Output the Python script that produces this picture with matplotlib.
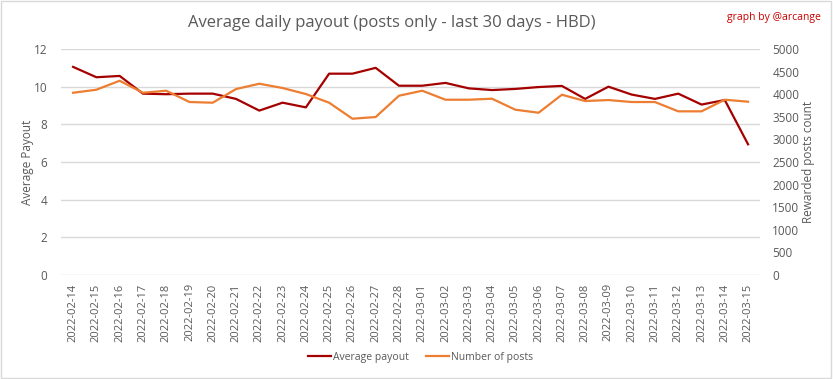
import pandas as pd
import matplotlib.pyplot as plt
from matplotlib.patches import Rectangle

dates = pd.date_range("2022-02-14", "2022-03-15").strftime("%Y-%m-%d").tolist()

avg_payout = [11.05, 10.50, 10.57, 9.63, 9.60, 9.63, 9.63, 9.35, 8.73, 9.15,
              8.90, 10.69, 10.69, 11.00, 10.05, 10.05, 10.20, 9.91, 9.82, 9.88,
              9.98, 10.04, 9.35, 10.00, 9.58, 9.35, 9.63, 9.05, 9.29, 6.94]

num_posts = [4032, 4099, 4298, 4032, 4077, 3827, 3812, 4114, 4232, 4137,
             4004, 3812, 3458, 3495, 3966, 4077, 3878, 3878, 3900, 3657,
             3590, 3988, 3849, 3871, 3827, 3827, 3621, 3621, 3878, 3834]

left_ticks = [0, 2, 4, 6, 8, 10, 12]
right_ticks = list(range(0, 5001, 500))

TXT = "#595959"
GRID = "#d9d9d9"
RED = "#a50000"
ORANGE = "#ed7d31"

plt.rcParams["font.family"] = ["Open Sans", "DejaVu Sans"]

fig = plt.figure(figsize=(8.33, 3.79), dpi=100)
fig.patches.append(Rectangle((0.001, 0.002), 0.997, 0.995, transform=fig.transFigure,
                             fill=False, edgecolor="#d9d9d9", linewidth=1))

ax = fig.add_axes([0.0738, 0.2744, 0.8382, 0.5963])
ax2 = ax.twinx()

x = list(range(len(dates)))
l1, = ax.plot(x, avg_payout, color=RED, linewidth=1.6, label="Average payout", zorder=3)
l2, = ax2.plot(x, num_posts, color=ORANGE, linewidth=1.6, label="Number of posts", zorder=2)

ax.set_xlim(-0.5, len(dates) - 0.5)
ax.set_ylim(0, 12)
ax.set_yticks(left_ticks)
ax2.set_ylim(0, 5000)
ax2.set_yticks(right_ticks)

ax.set_xticks(x)
ax.set_xticklabels(dates, rotation=90, fontsize=8, color=TXT)
ax.tick_params(axis="both", length=0, pad=6)
ax.tick_params(axis="y", labelsize=8.5, labelcolor=TXT, pad=10)
ax2.tick_params(axis="y", length=0, labelsize=8.5, labelcolor=TXT, pad=9)

ax.grid(axis="y", color=GRID, linewidth=1)
ax.set_axisbelow(True)
for a in (ax, ax2):
    for s in a.spines.values():
        s.set_visible(False)

ax.set_ylabel("Average Payout", fontsize=8.5, color=TXT, labelpad=0)
ax2.set_ylabel("Rewarded posts count", fontsize=8.5, color=TXT, labelpad=2)

fig.text(0.47, 0.94, "Average daily payout (posts only - last 30 days - HBD)",
         ha="center", va="center", fontsize=12, color=TXT)
fig.text(0.985, 0.955, "graph by @arcange", ha="right", va="center",
         fontsize=7.5, color="#cc0000")

fig.legend(handles=[l1, l2], loc="center", bbox_to_anchor=(0.505, 0.058), ncol=2,
           frameon=False, fontsize=7.5, labelcolor=TXT, handlelength=2.2,
           handletextpad=0.2, columnspacing=1.6)

fig.savefig("out.png", dpi=100)
